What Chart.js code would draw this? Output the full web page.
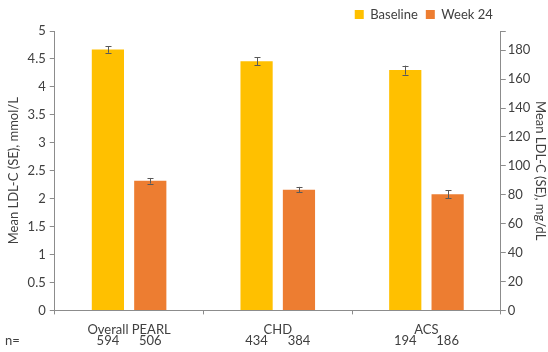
<!DOCTYPE html>
<html>
<head>
<meta charset="utf-8">
<script src="https://cdn.jsdelivr.net/npm/chart.js@4/dist/chart.umd.min.js"></script>
<style>
  body { margin: 0; background: #fff; }
  #wrap { width: 548px; height: 352px; position: relative; }
</style>
</head>
<body>
<div id="wrap"><canvas id="myChart"></canvas></div>
<script>
let groups = ['Overall PEARL', 'CHD', 'ACS'];
let baselineMean = [4.67, 4.46, 4.30];
let baselineSE = [0.06, 0.07, 0.08];
let week24Mean = [2.32, 2.16, 2.08];
let week24SE = [0.05, 0.05, 0.07];
let baselineN = [594, 434, 194];
let week24N = [506, 384, 186];
let mgPerMmol = 38.67; // LDL-C conversion for the right axis

let textColor = '#404040';
let axisColor = '#8c8c8c';
let fontName = 'Lato, "Liberation Sans", sans-serif';

// error bars drawn from the y scale
let errorBars = {
    id: 'errorBars',
    afterDatasetsDraw(chart) {
        let ctx = chart.ctx;
        let y = chart.scales.y;
        let seLists = [baselineSE, week24SE];
        ctx.save();
        ctx.strokeStyle = '#595959';
        ctx.lineWidth = 1;
        chart.data.datasets.forEach(function (ds, d) {
            let meta = chart.getDatasetMeta(d);
            meta.data.forEach(function (bar, i) {
                let top = y.getPixelForValue(ds.data[i] + seLists[d][i]);
                let bot = y.getPixelForValue(ds.data[i] - seLists[d][i]);
                let x = Math.round(bar.x) + 0.5;
                ctx.beginPath();
                ctx.moveTo(x, top); ctx.lineTo(x, bot);
                ctx.moveTo(x - 3, Math.round(top) + 0.5); ctx.lineTo(x + 3, Math.round(top) + 0.5);
                ctx.moveTo(x - 3, Math.round(bot) + 0.5); ctx.lineTo(x + 3, Math.round(bot) + 0.5);
                ctx.stroke();
            });
        });
        ctx.restore();
    }
};

// "n=" row under the category labels
let nRow = {
    id: 'nRow',
    afterDraw(chart) {
        let ctx = chart.ctx;
        let rowY = chart.chartArea.bottom + 30;
        let nLists = [baselineN, week24N];
        ctx.save();
        ctx.fillStyle = textColor;
        ctx.font = '13px ' + fontName;
        ctx.textBaseline = 'middle';
        ctx.textAlign = 'left';
        ctx.fillText('n=', 5, rowY);
        ctx.textAlign = 'center';
        nLists.forEach(function (list, d) {
            chart.getDatasetMeta(d).data.forEach(function (bar, i) {
                ctx.fillText(String(list[i]), bar.x, rowY);
            });
        });
        ctx.restore();
    }
};

let ctx = document.getElementById('myChart').getContext('2d');
let chart = new Chart(ctx, {
    type: 'bar',
    data: {
        labels: groups,
        datasets: [{
            label: 'Baseline',
            backgroundColor: '#FFC000',
            data: baselineMean,
            categoryPercentage: 0.57,
            barPercentage: 0.76
        }, {
            label: 'Week 24',
            backgroundColor: '#ED7D31',
            data: week24Mean,
            categoryPercentage: 0.57,
            barPercentage: 0.76
        }]
    },
    options: {
        responsive: true,
        maintainAspectRatio: false,
        animation: false,
        layout: { padding: { left: 4, right: 0, top: 0, bottom: 6 } },
        plugins: {
            legend: {
                position: 'top',
                align: 'end',
                fullSize: false,
                labels: {
                    boxWidth: 9, boxHeight: 9, color: textColor,
                    font: { family: fontName, size: 13 }, padding: 8
                }
            },
            tooltip: { enabled: false }
        },
        scales: {
            x: {
                grid: { offset: true, drawOnChartArea: false, tickLength: 4, color: axisColor },
                border: { color: axisColor },
                ticks: { color: textColor, font: { family: fontName, size: 13 }, padding: 8 }
            },
            y: {
                position: 'left',
                min: 0, max: 5,
                ticks: {
                    stepSize: 0.5, color: textColor, font: { family: fontName, size: 13 }, padding: 4,
                    callback: function (v) { return String(v); }
                },
                grid: { drawOnChartArea: false, tickLength: 5, color: axisColor },
                border: { color: axisColor },
                title: { display: true, text: 'Mean LDL-C (SE), mmol/L', color: textColor, font: { family: fontName, size: 13 }, padding: 2 }
            },
            y1: {
                position: 'right',
                min: 0, max: 5 * mgPerMmol,
                ticks: {
                    stepSize: 20, color: textColor, font: { family: fontName, size: 13 }, padding: 2,
                    callback: function (v) { return v % 20 === 0 ? String(v) : ''; }
                },
                grid: { drawOnChartArea: false, tickLength: 5, color: axisColor },
                border: { color: axisColor },
                title: { display: true, text: 'Mean LDL-C (SE), mg/dL', color: textColor, font: { family: fontName, size: 13 }, padding: 0 }
            }
        }
    },
    plugins: [errorBars, nRow]
});
</script>
</body>
</html>
